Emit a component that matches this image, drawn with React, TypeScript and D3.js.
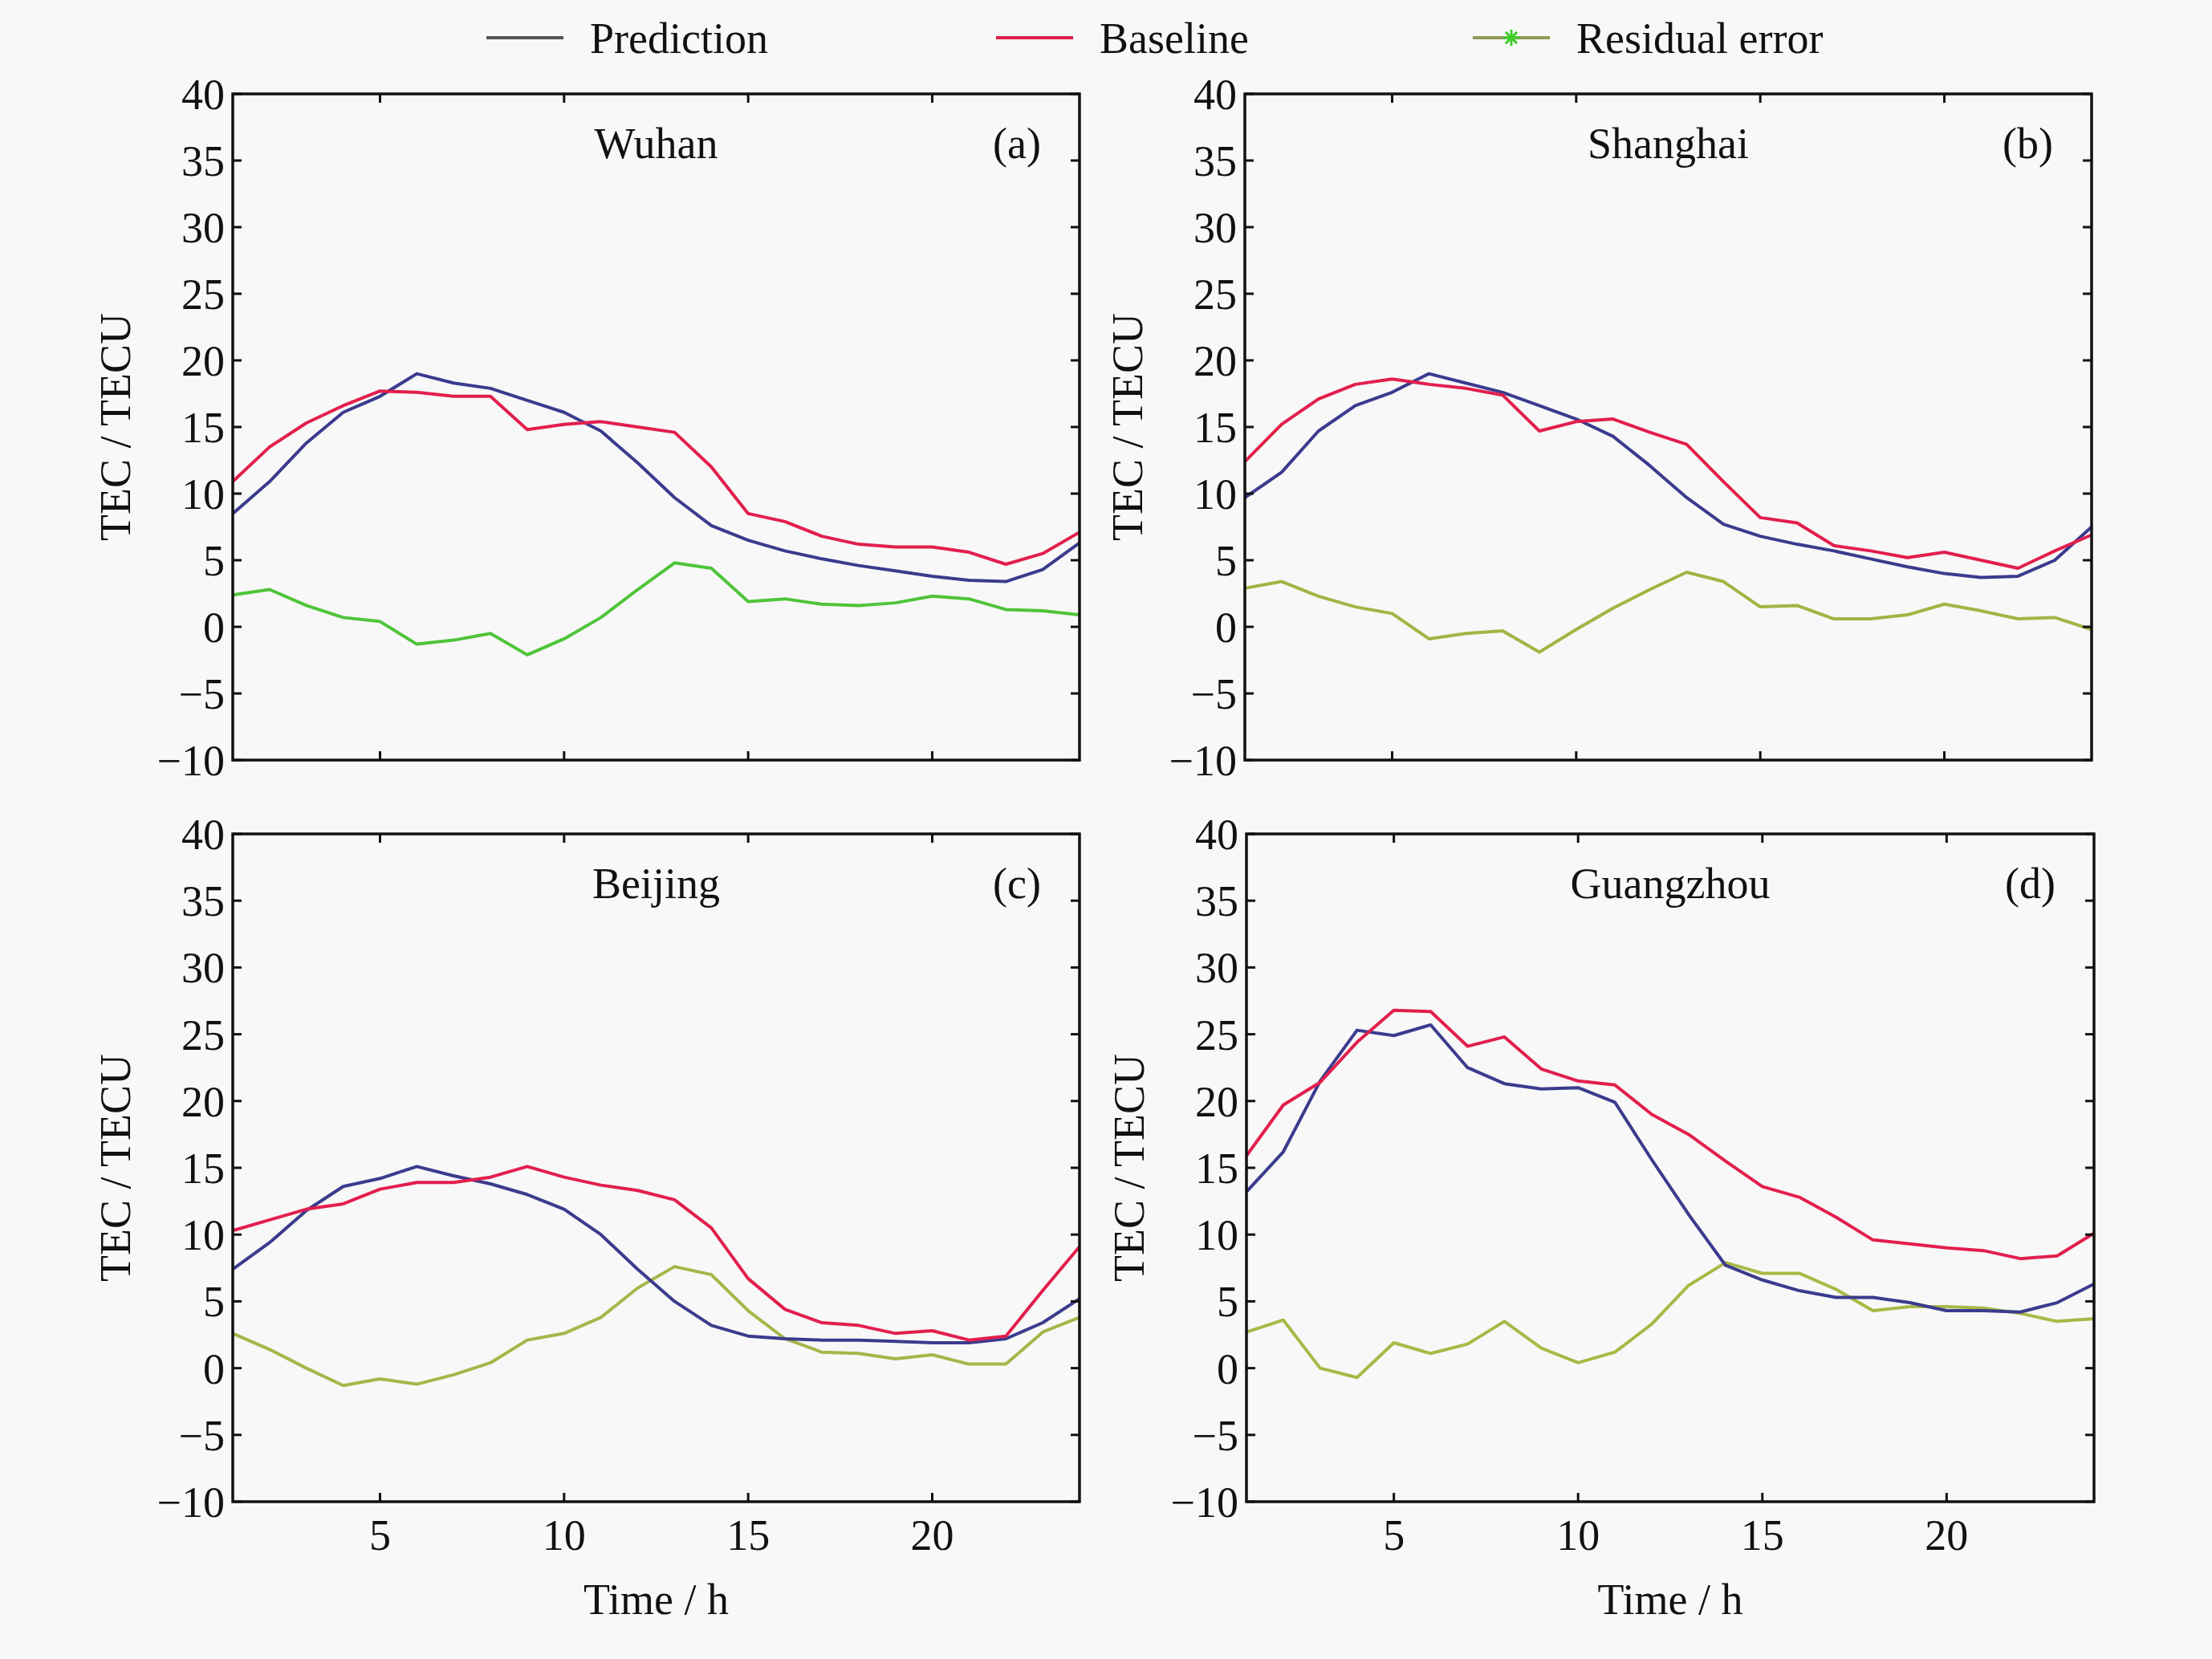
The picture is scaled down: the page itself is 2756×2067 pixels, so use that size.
import React, { useEffect } from "react";
import * as d3 from "d3";

// hours 1..24
const hours = d3.range(1, 25);

const cities = ["Wuhan", "Shanghai", "Beijing", "Guangzhou"];
const panelTags = ["(a)", "(b)", "(c)", "(d)"];

const wuhanPred = [8.5, 10.9, 13.8, 16.1, 17.3, 19.0, 18.3, 17.9, 17.0, 16.1, 14.7, 12.3, 9.7, 7.6, 6.5, 5.7, 5.1, 4.6, 4.2, 3.8, 3.5, 3.4, 4.3, 6.3];
const wuhanBase = [10.9, 13.5, 15.3, 16.6, 17.7, 17.6, 17.3, 17.3, 14.8, 15.2, 15.4, 15.0, 14.6, 12.0, 8.5, 7.9, 6.8, 6.2, 6.0, 6.0, 5.6, 4.7, 5.5, 7.1];
const wuhanResid = [2.4, 2.8, 1.6, 0.7, 0.4, -1.3, -1.0, -0.5, -2.1, -0.9, 0.7, 2.8, 4.8, 4.4, 1.9, 2.1, 1.7, 1.6, 1.8, 2.3, 2.1, 1.3, 1.2, 0.9];

const shanghaiPred = [9.7, 11.6, 14.7, 16.6, 17.6, 19.0, 18.3, 17.6, 16.6, 15.6, 14.3, 12.1, 9.7, 7.7, 6.8, 6.2, 5.7, 5.1, 4.5, 4.0, 3.7, 3.8, 5.0, 7.5];
const shanghaiBase = [12.4, 15.2, 17.1, 18.2, 18.6, 18.2, 17.9, 17.4, 14.7, 15.4, 15.6, 14.6, 13.7, 10.9, 8.2, 7.8, 6.1, 5.7, 5.2, 5.6, 5.0, 4.4, 5.7, 6.9];
const shanghaiResid = [2.9, 3.4, 2.3, 1.5, 1.0, -0.9, -0.5, -0.3, -1.9, -0.2, 1.4, 2.8, 4.1, 3.4, 1.5, 1.6, 0.6, 0.6, 0.9, 1.7, 1.2, 0.6, 0.7, -0.2];

const beijingPred = [7.4, 9.4, 11.8, 13.6, 14.2, 15.1, 14.4, 13.8, 13.0, 11.9, 10.0, 7.4, 5.0, 3.2, 2.4, 2.2, 2.1, 2.1, 2.0, 1.9, 1.9, 2.2, 3.4, 5.2];
const beijingBase = [10.3, 11.1, 11.9, 12.3, 13.4, 13.9, 13.9, 14.3, 15.1, 14.3, 13.7, 13.3, 12.6, 10.5, 6.7, 4.4, 3.4, 3.2, 2.6, 2.8, 2.1, 2.4, 5.8, 9.1];
const beijingResid = [2.6, 1.4, 0.0, -1.3, -0.8, -1.2, -0.5, 0.4, 2.1, 2.6, 3.8, 6.0, 7.6, 7.0, 4.3, 2.2, 1.2, 1.1, 0.7, 1.0, 0.3, 0.3, 2.7, 3.8];

const guangzhouPred = [13.2, 16.2, 21.5, 25.3, 24.9, 25.7, 22.5, 21.3, 20.9, 21.0, 19.9, 15.6, 11.5, 7.7, 6.6, 5.8, 5.3, 5.3, 4.9, 4.3, 4.3, 4.2, 4.9, 6.3];
const guangzhouBase = [15.9, 19.7, 21.4, 24.4, 26.8, 26.7, 24.1, 24.8, 22.4, 21.5, 21.2, 19.0, 17.5, 15.5, 13.6, 12.8, 11.3, 9.6, 9.3, 9.0, 8.8, 8.2, 8.4, 10.1];
const guangzhouResid = [2.7, 3.6, 0.0, -0.7, 1.9, 1.1, 1.8, 3.5, 1.5, 0.4, 1.2, 3.3, 6.2, 7.9, 7.1, 7.1, 5.9, 4.3, 4.6, 4.6, 4.5, 4.1, 3.5, 3.7];

const predictions = [wuhanPred, shanghaiPred, beijingPred, guangzhouPred];
const baselines = [wuhanBase, shanghaiBase, beijingBase, guangzhouBase];
const residuals = [wuhanResid, shanghaiResid, beijingResid, guangzhouResid];

const yTicks = [-10, -5, 0, 5, 10, 15, 20, 25, 30, 35, 40];
const xTicks = [5, 10, 15, 20];
const seriesNames = ["Prediction", "Baseline", "Residual error"];

const W = 2756;
const H = 2067;
const FONT = "'Liberation Serif', 'Times New Roman', serif";
const FS = 54;

const predColor = "#3b3b8e";
const baseColor = "#e21f4d";
const residColors = ["#4fc43a", "#a3b444", "#a6b64a", "#a9b846"];

const panels = [
  { left: 290, right: 1345, top: 117, bottom: 947 },
  { left: 1551, right: 2606, top: 117, bottom: 947 },
  { left: 290, right: 1345, top: 1039, bottom: 1871 },
  { left: 1553, right: 2609, top: 1039, bottom: 1871 },
];

const fmt = (v: number) => (v < 0 ? "\u2212" + Math.abs(v) : String(v));

function Panel({ idx }: { idx: number }) {
  const p = panels[idx];
  const x = d3.scaleLinear().domain([1, 24]).range([p.left, p.right]);
  const y = d3.scaleLinear().domain([-10, 40]).range([p.bottom, p.top]);
  const line = d3
    .line<number>()
    .x((_d, i) => x(hours[i]))
    .y((d) => y(d));
  const tickLen = 11;
  const showX = idx >= 2;
  const cx = (p.left + p.right) / 2;

  return (
    <g>
      {/* data */}
      <path d={line(residuals[idx]) || ""} fill="none" stroke={residColors[idx]} strokeWidth={4} strokeLinejoin="round" />
      <path d={line(predictions[idx]) || ""} fill="none" stroke={predColor} strokeWidth={4} strokeLinejoin="round" />
      <path d={line(baselines[idx]) || ""} fill="none" stroke={baseColor} strokeWidth={4} strokeLinejoin="round" />

      {/* frame */}
      <rect x={p.left} y={p.top} width={p.right - p.left} height={p.bottom - p.top} fill="none" stroke="#111" strokeWidth={3.5} />

      {/* y ticks */}
      {yTicks.map((t) => (
        <g key={"y" + t}>
          <line x1={p.left} x2={p.left + tickLen} y1={y(t)} y2={y(t)} stroke="#111" strokeWidth={3} />
          <line x1={p.right} x2={p.right - tickLen} y1={y(t)} y2={y(t)} stroke="#111" strokeWidth={3} />
          <text x={p.left - 10} y={y(t)} dy="0.35em" textAnchor="end" fontSize={FS} fontFamily={FONT} fill="#111">
            {fmt(t)}
          </text>
        </g>
      ))}

      {/* x ticks */}
      {xTicks.map((t) => (
        <g key={"x" + t}>
          <line x1={x(t)} x2={x(t)} y1={p.bottom} y2={p.bottom - tickLen} stroke="#111" strokeWidth={3} />
          <line x1={x(t)} x2={x(t)} y1={p.top} y2={p.top + tickLen} stroke="#111" strokeWidth={3} />
          {showX && (
            <text x={x(t)} y={p.bottom + 60} textAnchor="middle" fontSize={FS} fontFamily={FONT} fill="#111">
              {t}
            </text>
          )}
        </g>
      ))}

      {showX && (
        <text x={cx} y={p.bottom + 140} textAnchor="middle" fontSize={FS} fontFamily={FONT} fill="#111">
          Time / h
        </text>
      )}

      {/* y label */}
      <text
        transform={`translate(${p.left - 128},${(p.top + p.bottom) / 2}) rotate(-90)`}
        textAnchor="middle"
        fontSize={FS}
        fontFamily={FONT}
        fill="#111"
      >
        TEC / TECU
      </text>

      {/* titles */}
      <text x={cx} y={p.top + 80} textAnchor="middle" fontSize={FS} fontFamily={FONT} fill="#111">
        {cities[idx]}
      </text>
      <text x={p.right - 48} y={p.top + 80} textAnchor="end" fontSize={FS} fontFamily={FONT} fill="#111">
        {panelTags[idx]}
      </text>
    </g>
  );
}

function Legend() {
  const items = [
    { x: 606, color: "#555", marker: false },
    { x: 1241, color: baseColor, marker: false },
    { x: 1835, color: "#8f9a58", marker: true },
  ];
  const yc = 47;
  return (
    <g>
      {items.map((it, i) => (
        <g key={i}>
          <line x1={it.x} x2={it.x + 96} y1={yc} y2={yc} stroke={it.color} strokeWidth={4} />
          {it.marker && (
            <g stroke="#3ccf2a" strokeWidth={3}>
              {[0, 45, 90, 135].map((a) => (
                <line
                  key={a}
                  x1={it.x + 48 - 10 * Math.cos((a * Math.PI) / 180)}
                  x2={it.x + 48 + 10 * Math.cos((a * Math.PI) / 180)}
                  y1={yc - 10 * Math.sin((a * Math.PI) / 180)}
                  y2={yc + 10 * Math.sin((a * Math.PI) / 180)}
                />
              ))}
            </g>
          )}
          <text x={it.x + 129} y={yc} dy="0.35em" fontSize={FS} fontFamily={FONT} fill="#111">
            {seriesNames[i]}
          </text>
        </g>
      ))}
    </g>
  );
}

export default function App() {
  useEffect(() => {
    document.body.style.margin = "0";
  }, []);
  return (
    <svg width={W} height={H} viewBox={`0 0 ${W} ${H}`} style={{ display: "block", background: "#f8f8f8" }}>
      <rect x={0} y={0} width={W} height={H} fill="#f8f8f8" />
      <Legend />
      {[0, 1, 2, 3].map((i) => (
        <Panel key={i} idx={i} />
      ))}
    </svg>
  );
}
